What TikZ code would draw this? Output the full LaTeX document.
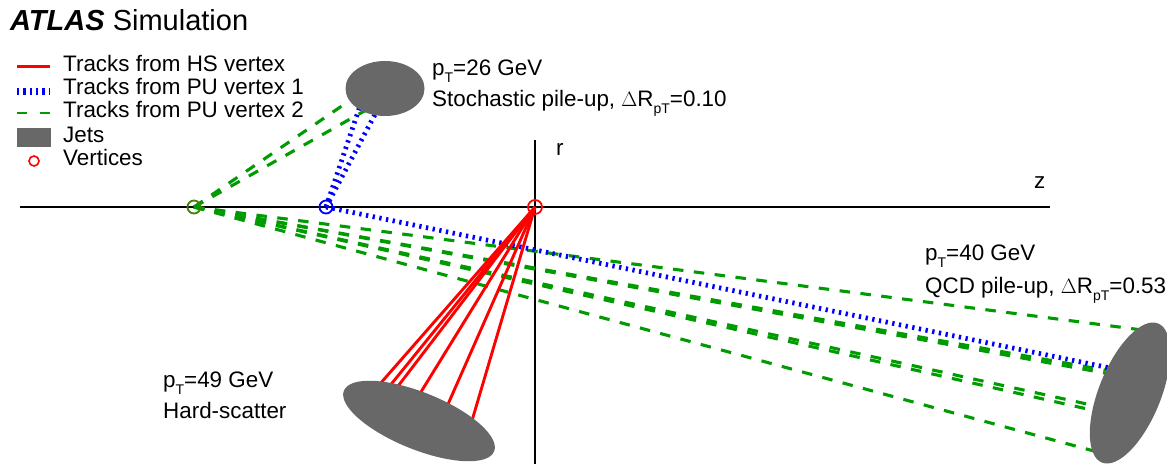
\documentclass[tikz,border=0pt]{standalone}
\usepackage{fontspec}
\setmainfont{Liberation Sans}
\usetikzlibrary{shapes.geometric}
\definecolor{trkred}{RGB}{255,0,0}
\definecolor{trkblue}{RGB}{0,0,255}
\definecolor{trkgreen}{RGB}{0,155,0}
\definecolor{vtxgreen}{RGB}{60,130,0}
\definecolor{jetgray}{RGB}{104,104,104}
\newcommand{\subT}[1]{\raisebox{-7pt}{\fontsize{14}{14}\selectfont #1}}
\begin{document}
\begin{tikzpicture}[x=1pt,y=-1pt,
  hstrk/.style={trkred, line width=2.9pt},
  putrkone/.style={trkblue, line width=4.8pt, dash pattern=on 2.3pt off 4.5pt},
  putrktwo/.style={trkgreen, line width=3.1pt, dash pattern=on 10.5pt off 10.5pt},
  jetblob/.style={ellipse, fill=jetgray, inner sep=0pt, draw=none},
  vtxmark/.style={circle, draw, line width=1.8pt, minimum size=13pt, inner sep=0pt, fill=none},
  lbl/.style={anchor=base west, inner sep=0pt, font=\fontsize{22.4}{26}\selectfont},
  axisline/.style={black, line width=2pt}]
\useasboundingbox (0,0) rectangle (1167,464);

% title
\node[anchor=base west, inner sep=0pt, font=\fontsize{29}{33}\selectfont] (title) at (10,30) {\textbf{\textit{ATLAS}} Simulation};

% legend
\coordinate (l1a) at (17,66); \coordinate (l1b) at (50,66);
\coordinate (l2a) at (17,91); \coordinate (l2b) at (50,91);
\coordinate (l3a) at (17,113); \coordinate (l3b) at (50,113);
\draw[trkred, line width=3pt] (l1a) -- (l1b);
\draw[trkblue, line width=7pt, dash pattern=on 2.3pt off 4.0pt] (l2a) -- (l2b);
\draw[trkgreen, line width=2.8pt, dash pattern=on 10pt off 13pt] (l3a) -- (l3b);
\fill[jetgray] (17,128) rectangle (51,147);
\draw[trkred, line width=1.6pt] (34,161) circle[radius=5];
\node[lbl] (t1) at (63,71) {Tracks from HS vertex};
\node[lbl] (t2) at (63,94) {Tracks from PU vertex 1};
\node[lbl] (t3) at (63,117) {Tracks from PU vertex 2};
\node[lbl] (t4) at (63,142) {Jets};
\node[lbl] (t5) at (63,165) {Vertices};

% axes
\coordinate (axL) at (20,207); \coordinate (axR) at (1050,207);
\coordinate (axT) at (535,140); \coordinate (axB) at (535,464);
\draw[axisline] (axL) -- (axR);
\draw[axisline] (axT) -- (axB);
\node[lbl] (rlab) at (556,155) {r};
\node[lbl] (zlab) at (1034,188) {z};

% vertices
\coordinate (vHS) at (535,207);
\coordinate (vPUa) at (326,207);
\coordinate (vPUb) at (194,207);

% track end points
\coordinate (h1) at (372,393);
\coordinate (h2) at (384,393);
\coordinate (h3) at (392,394);
\coordinate (h4) at (416,400);
\coordinate (h5) at (445,411);
\coordinate (h6) at (471,424);
\coordinate (b1) at (362,100);
\coordinate (b2) at (380,105);
\coordinate (b3) at (1115,369);
\coordinate (g1) at (352,99);
\coordinate (g2) at (375,105);
\coordinate (g3) at (1150,331);
\coordinate (g4) at (1110,371);
\coordinate (g5) at (1110,374);
\coordinate (g6) at (1105,408);
\coordinate (g7) at (1105,413);
\coordinate (g8) at (1105,454);

% PU vertex 2 tracks
\foreach \e in {g1,g2,g3,g4,g5,g6,g7,g8} \draw[putrktwo] (vPUb) -- (\e);
% PU vertex 1 tracks
\foreach \e in {b1,b2,b3} \draw[putrkone] (vPUa) -- (\e);
% HS tracks
\foreach \e in {h1,h2,h3,h4,h5,h6} \draw[hstrk] (vHS) -- (\e);

% jets
\node[jetblob, minimum width=79pt, minimum height=55pt] (jetStoch) at (385,88.5) {};
\node[jetblob, minimum width=162pt, minimum height=57pt, rotate=-22] (jetHS) at (419,421) {};
\node[jetblob, minimum width=150pt, minimum height=62pt, rotate=68] (jetQCD) at (1130,393) {};

% vertex markers
\node[vtxmark, draw=trkred, minimum size=14pt] (mHS) at (vHS) {};
\node[vtxmark, draw=trkblue] (mPUa) at (vPUa) {};
\node[vtxmark, draw=vtxgreen] (mPUb) at (vPUb) {};

% jet labels
\node[lbl] (s1) at (432,75) {p\subT{T}=26 GeV};
\node[lbl] (s2) at (432,106) {Stochastic pile-up, \(\Delta\)R\subT{pT}=0.10};
\node[lbl] (q1) at (925,260) {p\subT{T}=40 GeV};
\node[lbl] (q2) at (925,293) {QCD pile-up, \(\Delta\)R\subT{pT}=0.53};
\node[lbl] (j1) at (163,387) {p\subT{T}=49 GeV};
\node[lbl] (j2) at (163,418) {Hard-scatter};
\end{tikzpicture}
\end{document}
